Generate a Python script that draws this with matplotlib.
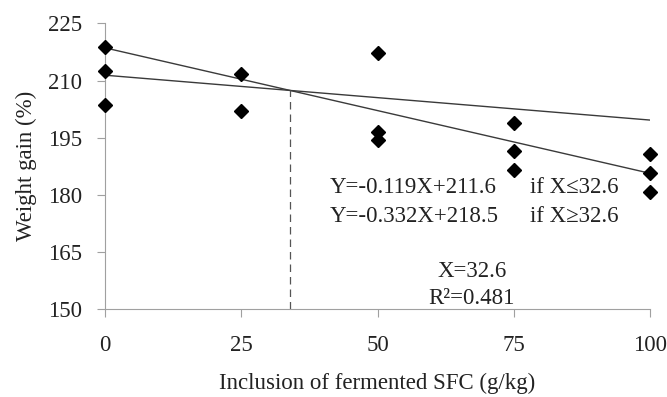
import numpy as np
import matplotlib.pyplot as plt

# data
x_pts = [0, 0, 0, 25, 25, 50, 50, 50, 75, 75, 75, 100, 100, 100]
y_pts = [218.7, 212.5, 203.5, 211.8, 202.0, 217.1, 196.6, 194.4,
         198.9, 191.5, 186.5, 190.8, 185.7, 180.8]
line_x = [0, 100]
line_a = [211.4, 199.6]   # Y=-0.119X+211.6
line_b = [218.6, 185.6]   # Y=-0.332X+218.5
x_ticks = [0, 25, 50, 75, 100]
y_ticks = [150, 165, 180, 195, 210, 225]

plt.rcParams['font.family'] = ['Liberation Serif', 'DejaVu Serif']

fs = 16.5
tc = '#222222'

fig = plt.figure(figsize=(6.67, 3.97), dpi=100)
ax = fig.add_axes([0.157, 0.222, 0.818, 0.719])

ax.plot(line_x, line_a, color='#3a3a3a', lw=1.0)
ax.plot(line_x, line_b, color='#3a3a3a', lw=1.0)

# breakpoint where the two lines cross
sa = (line_a[1] - line_a[0]) / 100
sb = (line_b[1] - line_b[0]) / 100
xb = (line_b[0] - line_a[0]) / (sa - sb)
yb = line_a[0] + sa * xb
ax.plot([xb, xb], [150, yb], color='#555555', lw=0.9, ls=(0, (6, 4)))

ax.plot(x_pts, y_pts, 'D', color='black', ms=7, clip_on=False, zorder=5)

ax.set_xlim(0, 100)
ax.set_ylim(150, 225)
ax.set_xticks(x_ticks)
ax.set_yticks(y_ticks)
for s in ['top', 'right']:
    ax.spines[s].set_visible(False)
for s in ['left', 'bottom']:
    ax.spines[s].set_color('#a0a0a0')
ax.tick_params(axis='both', colors='#a0a0a0', labelcolor=tc,
               labelsize=fs, length=6, direction='out')
ax.tick_params(axis='x', pad=13)
ax.tick_params(axis='y', pad=10)

ax.set_xlabel('Inclusion of fermented SFC (g/kg)', fontsize=fs, labelpad=12, color=tc)
ax.set_ylabel('Weight gain (%)', fontsize=fs, labelpad=8, color=tc)

ax.text(41.3, 181.8, 'Y=-0.119X+211.6', fontsize=fs, va='center', color=tc)
ax.text(41.3, 174.2, 'Y=-0.332X+218.5', fontsize=fs, va='center', color=tc)
ax.text(78.0, 181.8, 'if X\u226432.6', fontsize=fs, va='center', color=tc)
ax.text(78.0, 174.2, 'if X\u226532.6', fontsize=fs, va='center', color=tc)
ax.text(67.3, 159.8, 'X=32.6', fontsize=fs, ha='center', va='center', color=tc)
ax.text(67.3, 152.6, 'R\u00b2=0.481', fontsize=fs, ha='center', va='center', color=tc)

fig.savefig('out.png', dpi=100)
